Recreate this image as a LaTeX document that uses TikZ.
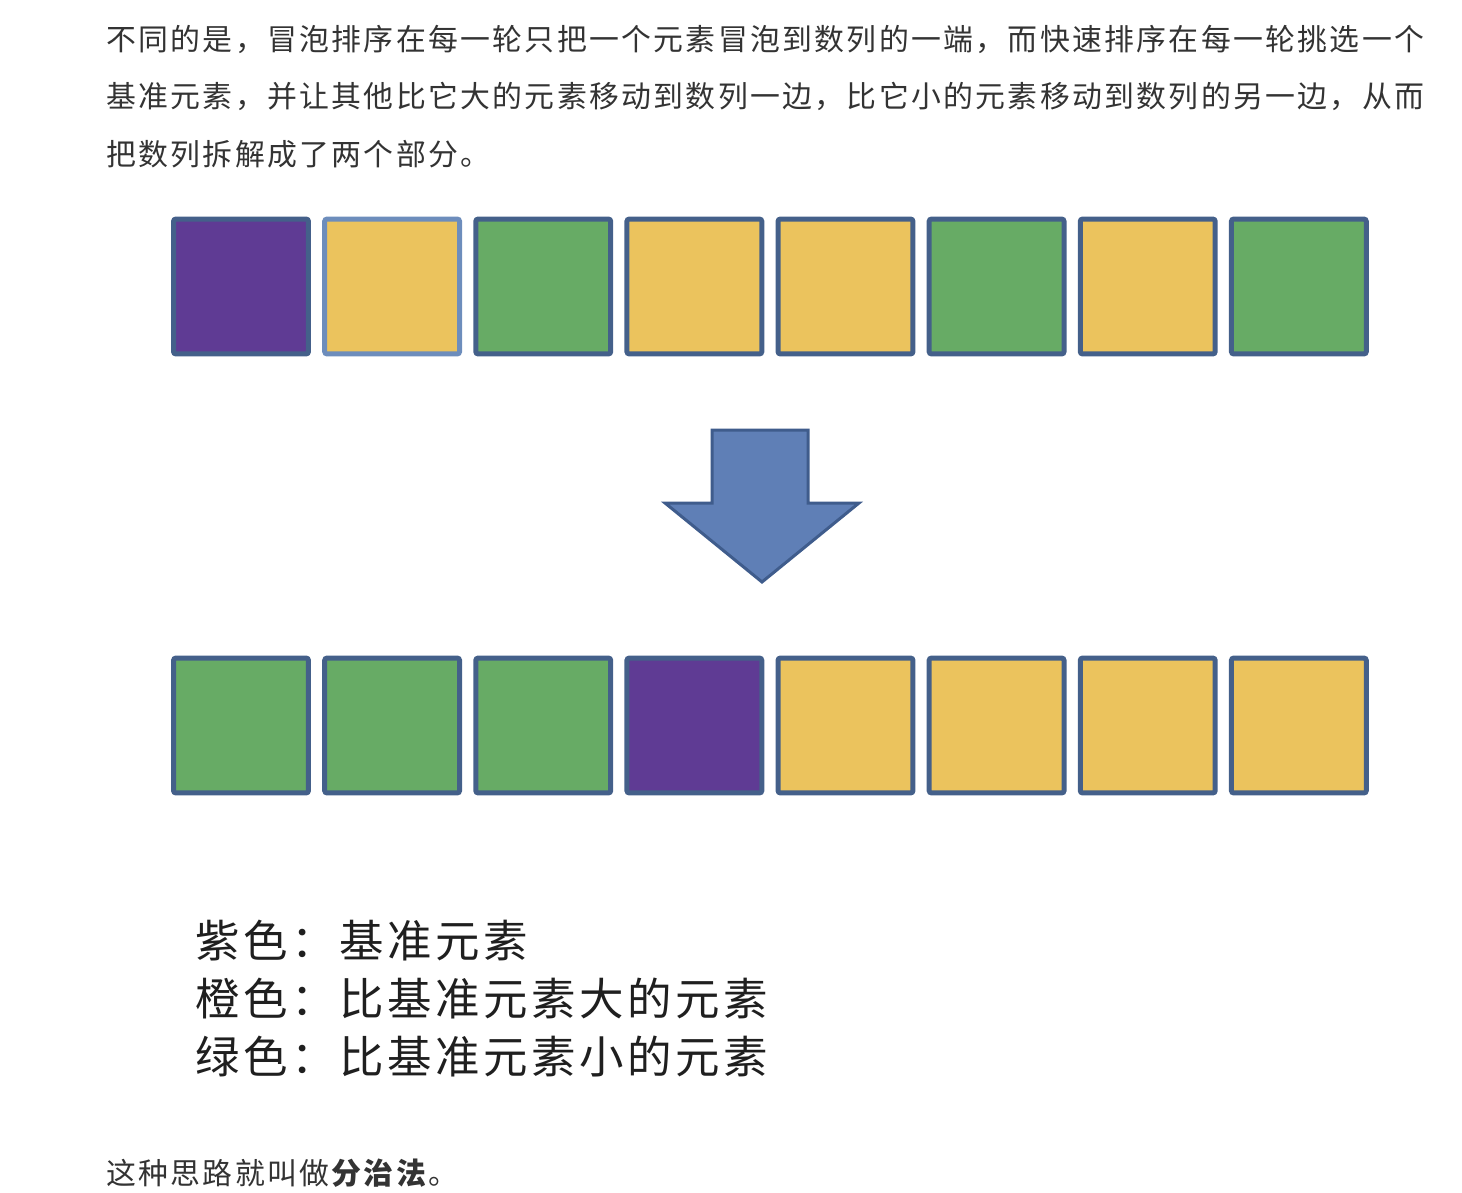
\documentclass[tikz,border=0pt]{standalone}
\usepackage{fontspec}
\usepackage{xcolor}
\usetikzlibrary{positioning}

\newfontfamily\cjk[LetterSpace=7.8]{Noto Sans CJK SC}
\newfontfamily\cjkkey[LetterSpace=8]{Noto Sans CJK SC}

\definecolor{pivotpurple}{HTML}{5F3B94}
\definecolor{bigyellow}{HTML}{EBC35D}
\definecolor{smallgreen}{HTML}{67AB65}
\definecolor{celledge}{HTML}{44608A}
\definecolor{celledgelight}{HTML}{6D8DBC}
\definecolor{arrowblue}{HTML}{5F7FB6}
\definecolor{arrowedge}{HTML}{3F5C8C}
\definecolor{bodytext}{HTML}{333333}

\begin{document}
\begin{tikzpicture}[
  x=0.02cm, y=-0.02cm,
  node distance = 0.223cm,
  cell/.style = {rectangle, draw=celledge, line width=0.1cm, rounded corners=0.05cm,
                 minimum width=2.7cm, minimum height=2.7cm, inner sep=0pt},
  pivot/.style = {cell, fill=pivotpurple},
  big/.style = {cell, fill=bigyellow},
  small/.style = {cell, fill=smallgreen},
  para/.style = {anchor=base west, inner sep=0pt, text=bodytext,
                 font=\cjk\fontsize{17pt}{20pt}\selectfont},
  key/.style = {anchor=base west, inner sep=0pt, text=black!88,
                font=\cjkkey\fontsize{25.3pt}{28pt}\selectfont}
]
  \useasboundingbox (0,0) rectangle (1462,1192);

  % paragraph above
  \node[para] (line1) at (106,51)  {不同的是，冒泡排序在每一轮只把一个元素冒泡到数列的一端，而快速排序在每一轮挑选一个};
  \node[para] (line2) at (106,108) {基准元素，并让其他比它大的元素移动到数列一边，比它小的元素移动到数列的另一边，从而};
  \node[para] (line3) at (106,166) {把数列拆解成了两个部分。};

  % before
  \node[pivot] (top1) at (241,286.5) {};
  \node[big, draw=celledgelight, right=of top1] (top2) {};
  \node[small, right=of top2] (top3) {};
  \node[big,   right=of top3] (top4) {};
  \node[big,   right=of top4] (top5) {};
  \node[small, right=of top5] (top6) {};
  \node[big,   right=of top6] (top7) {};
  \node[small, right=of top7] (top8) {};

  % block arrow
  \draw[arrowedge, fill=arrowblue, line width=0.06cm, line join=miter]
    (712,430) -- (808,430) -- (808,503) -- (859,503) -- (762,582)
    -- (665,503) -- (712,503) -- cycle;

  % after
  \node[small] (bot1) at (241,725.5) {};
  \node[small, right=of bot1] (bot2) {};
  \node[small, right=of bot2] (bot3) {};
  \node[pivot, right=of bot3] (bot4) {};
  \node[big,   right=of bot4] (bot5) {};
  \node[big,   right=of bot5] (bot6) {};
  \node[big,   right=of bot6] (bot7) {};
  \node[big,   right=of bot7] (bot8) {};

  % key
  \node[key] (key1) at (195,957)  {紫色：基准元素};
  \node[key] (key2) at (195,1015) {橙色：比基准元素大的元素};
  \node[key] (key3) at (195,1073) {绿色：比基准元素小的元素};

  \node[para] (summary) at (106,1184) {这种思路就叫做\textbf{分治法}。};
\end{tikzpicture}
\end{document}
